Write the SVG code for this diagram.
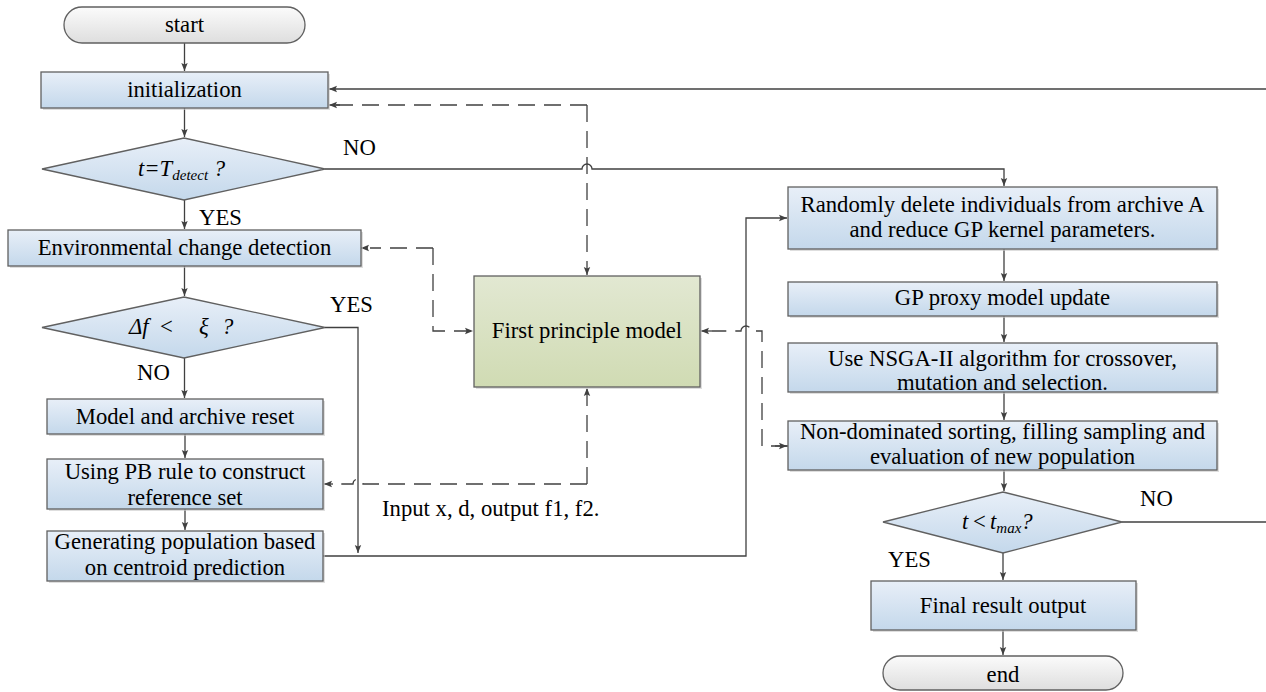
<svg xmlns="http://www.w3.org/2000/svg" width="1266" height="692" viewBox="0 0 1266 692">
<defs>
<linearGradient id="gBlue" x1="0" y1="0" x2="0" y2="1"><stop offset="0" stop-color="#e8eff8"/><stop offset="1" stop-color="#c4d8eb"/></linearGradient>
<linearGradient id="gGreen" x1="0" y1="0" x2="0" y2="1"><stop offset="0" stop-color="#e2e8d2"/><stop offset="1" stop-color="#d0dbb3"/></linearGradient>
<linearGradient id="gGrey" x1="0" y1="0" x2="0" y2="1"><stop offset="0" stop-color="#fbfbfb"/><stop offset="1" stop-color="#dedede"/></linearGradient>
<marker id="ah" markerUnits="userSpaceOnUse" markerWidth="10" markerHeight="10" refX="9" refY="5" orient="auto"><path d="M1,1.8 L9,5 L1,8.2 L2.5,5 Z" fill="#404040"/></marker>
<style>
.box{fill:url(#gBlue);stroke:#606060;stroke-width:1.3}
.grn{fill:url(#gGreen);stroke:#606060;stroke-width:1.3}
.pill{fill:url(#gGrey);stroke:#606060;stroke-width:1.3}
.sh{fill:#c8c8c8;opacity:.6}
text{font-family:'Liberation Serif','DejaVu Serif',serif;font-size:22.7px;fill:#000}
.c{text-anchor:middle}
.it{font-style:italic}
.ln{fill:none;stroke:#404040;stroke-width:1.3}
.ar{marker-end:url(#ah)}
.ds{stroke-dasharray:17 9}
</style>
</defs>

<g id="connectors">
<path class="ln ar" d="M184.5,43 V71"/>
<path class="ln ar" d="M184.5,108 V137"/>
<path class="ln ar" d="M184.5,200 V229"/>
<path class="ln ar" d="M184.5,266 V296"/>
<path class="ln ar" d="M184.5,358 V398"/>
<path class="ln ar" d="M185,434 V458"/>
<path class="ln ar" d="M185,509 V530"/>
<path class="ln ar" d="M1266,89 H329"/>
<path class="ln ar" d="M325,169 H582 A5,5 0 0 1 592,169 H1004 V186"/>
<path class="ln ar" d="M325,327.5 H358 V553"/>
<path class="ln ar" d="M323,556 H746 V218 H787"/>
<path class="ln ar" d="M1004,249 V281"/>
<path class="ln ar" d="M1004,316 V342"/>
<path class="ln ar" d="M1004,392 V420"/>
<path class="ln ar" d="M1004,470 V491"/>
<path class="ln ar" d="M1003,553 V580"/>
<path class="ln ar" d="M1003,630 V655"/>
<path class="ln" d="M1122,522 H1266"/>
<path class="ln ds ar" d="M587,105 V275"/>
<path class="ln ds" d="M587,105 H336"/>
<path class="ln ar" d="M340,105 H329"/>
<path class="ln ds ar" d="M433,248 V331 H473"/>
<path class="ln ar" d="M368,248 H361"/>
<path class="ln ds" d="M433,248 H370"/>
<path class="ln ds ar" d="M587,484 V388"/>
<path class="ln ds" d="M587,484 H363 A5,5 0 0 0 353,484 H333"/>
<path class="ln ar" d="M333,484 H324"/>
<path class="ln ds" d="M788,446 H762 V331 H751 A5,5 0 0 0 741,331 H712"/>
<path class="ln ar" d="M712,331 H701"/>
<path class="ln ar" d="M775,446 H787"/>
</g>

<g id="start"><rect class="pill" x="64" y="7" width="241" height="36" rx="18"/><text class="c" x="184.5" y="32">start</text></g>
<g id="initialization"><rect class="sh" x="43" y="74" width="287" height="36"/><rect class="box" x="41" y="72" width="287" height="36"/><text class="c" x="184.5" y="97">initialization</text></g>
<g id="decision-detect"><path class="box" d="M184,138 L325,169 L184,200 L42,169 Z"/>
<text class="it" x="138" y="176">t=T<tspan font-size="15" dy="4">detect</tspan><tspan dy="-4"> ?</tspan></text>
<text x="343" y="155">NO</text><text x="199" y="225">YES</text></g>
<g id="env-detection"><rect class="sh" x="10" y="232" width="353" height="36"/><rect class="box" x="8" y="230" width="353" height="36"/><text class="c" x="184.5" y="255">Environmental change detection</text></g>
<g id="decision-df"><path class="box" d="M184,297 L325,327.5 L184,358 L42,327.5 Z"/>
<text class="it" x="129" y="334">Δf</text><text x="160" y="334">&lt;</text><text class="it" x="199" y="334">ξ</text><text class="it" x="222" y="334">?</text>
<text x="330" y="312">YES</text><text x="137" y="380">NO</text></g>
<g id="model-reset"><rect class="sh" x="49" y="401" width="276" height="35"/><rect class="box" x="47" y="399" width="276" height="35"/><text class="c" x="185" y="424">Model and archive reset</text></g>
<g id="pb-rule"><rect class="sh" x="49" y="461" width="276" height="50"/><rect class="box" x="47" y="459" width="276" height="50"/><text class="c" x="185" y="479">Using PB rule to construct</text><text class="c" x="185" y="505">reference set</text></g>
<g id="generating"><rect class="sh" x="49" y="533" width="276" height="50"/><rect class="box" x="47" y="531" width="276" height="50"/><text class="c" x="185" y="549">Generating population based</text><text class="c" x="185" y="575">on centroid prediction</text></g>
<g id="first-principle"><rect class="sh" x="476" y="278" width="226" height="111"/><rect class="grn" x="474" y="276" width="226" height="111"/><text class="c" x="587" y="338">First principle model</text></g>
<g id="io-label"><text x="382" y="516">Input x, d, output f1, f2.</text></g>
<g id="random-delete"><rect class="sh" x="790" y="189" width="429" height="62"/><rect class="box" x="788" y="187" width="429" height="62"/><text class="c" x="1002.5" y="212">Randomly delete individuals from archive A</text><text class="c" x="1002.5" y="237">and reduce GP kernel parameters.</text></g>
<g id="gp-update"><rect class="sh" x="790" y="284" width="429" height="34"/><rect class="box" x="788" y="282" width="429" height="34"/><text class="c" x="1002.5" y="305">GP proxy model update</text></g>
<g id="nsga"><rect class="sh" x="790" y="345" width="429" height="49"/><rect class="box" x="788" y="343" width="429" height="49"/><text class="c" x="1002.5" y="366">Use NSGA-II algorithm for crossover,</text><text class="c" x="1002.5" y="390">mutation and selection.</text></g>
<g id="non-dominated"><rect class="sh" x="790" y="423" width="429" height="49"/><rect class="box" x="788" y="421" width="429" height="49"/><text class="c" x="1002.5" y="439">Non-dominated sorting, filling sampling and</text><text class="c" x="1002.5" y="464">evaluation of new population</text></g>
<g id="decision-tmax"><path class="box" d="M1003,492 L1122,522 L1003,553 L883,522 Z"/>
<text class="it" x="962" y="529">t</text><text x="973" y="529">&lt;</text><text class="it" x="990" y="529">t<tspan font-size="15" dy="4">max</tspan><tspan dy="-4">?</tspan></text>
<text x="1140" y="506">NO</text><text x="888" y="567">YES</text></g>
<g id="final-output"><rect class="sh" x="873" y="583" width="265" height="49"/><rect class="box" x="871" y="581" width="265" height="49"/><text class="c" x="1003" y="613">Final result output</text></g>
<g id="end"><rect class="pill" x="883" y="656" width="240" height="34" rx="17"/><text class="c" x="1003" y="682">end</text></g>
</svg>
